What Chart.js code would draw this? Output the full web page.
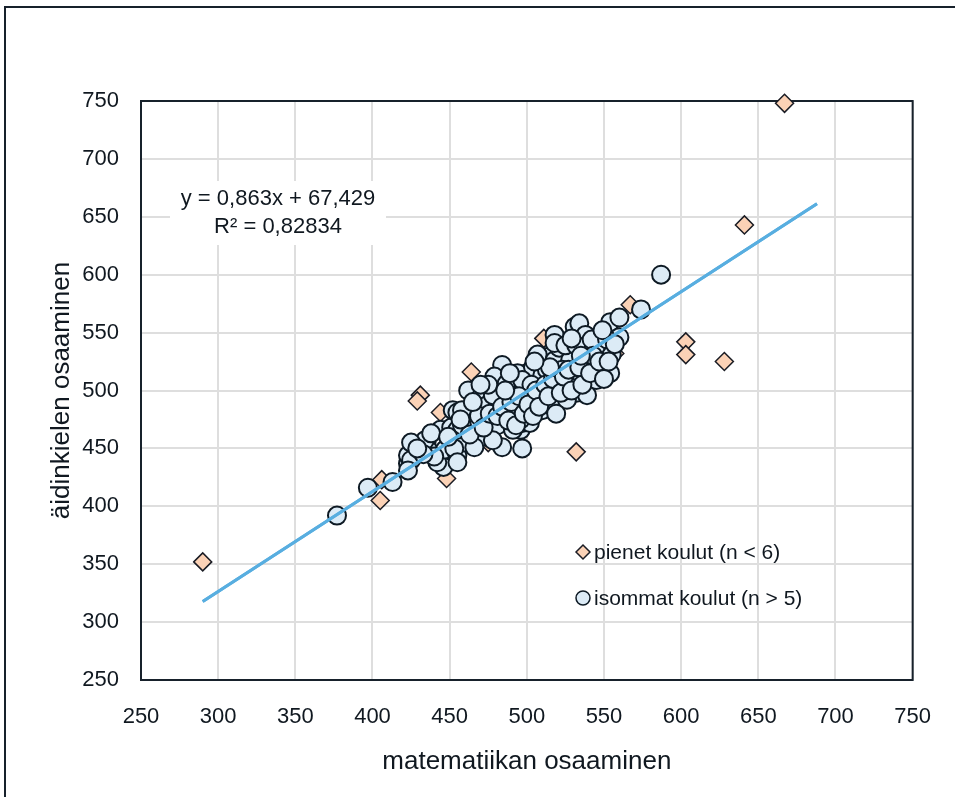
<!DOCTYPE html>
<html>
<head>
<meta charset="utf-8">
<script src="https://cdn.jsdelivr.net/npm/chart.js@4.4.1/dist/chart.umd.min.js"></script>
<style>
    body { margin: 0; background: #fff; }
    #frame { position: absolute; left: 4px; top: 6px; width: 1000px; height: 1000px; border: 2px solid #17212b; }
    #wrap { position: absolute; left: 0; top: 0; width: 955px; height: 797px; }
</style>
</head>
<body>
<div id="frame"></div>
<div id="wrap"><canvas id="chart" width="955" height="797"></canvas></div>
<script>
// pienet koulut (n < 6)
const smallX = [290, 667, 641, 603, 603, 628, 532, 567, 557, 511, 464, 431, 429, 444, 448, 405, 406, 475];
const smallY = [352, 748, 643, 542, 531, 525, 447, 574, 532, 545, 516, 496, 491, 481, 424, 405, 423, 455];

// isommat koulut (n > 5)
const largeX = [377, 397, 413, 423, 423, 435, 442, 446, 450, 442, 436, 434, 444, 451, 447, 460, 455, 452, 455, 462,
    467, 468, 464, 466, 475, 473, 478, 460, 453, 466, 484, 497, 484, 483, 487, 494, 500, 509, 513, 496,
    492, 479, 470, 479, 483, 497, 502, 511, 492, 487, 507, 520, 532, 522, 513, 498, 485, 494, 502, 520,
    532, 539, 496, 494, 504, 510, 507, 518, 518, 521, 531, 534, 538, 539, 549, 551, 554, 531, 554, 560,
    560, 574, 587, 545, 518, 528, 438, 425, 440, 425, 423, 481, 491, 507, 510, 516, 526, 526, 542, 545,
    545, 539, 523, 500, 500, 478, 471, 462, 455, 458, 475, 487, 497, 503, 513, 525, 532, 542, 552, 549,
    555, 478, 475, 455, 458, 463, 469, 472, 476, 481, 484, 488, 490, 493, 495, 498, 501, 504, 506, 508,
    512, 514, 517, 519, 522, 524, 527, 529, 534, 536, 541, 543, 547, 550, 553, 557, 535, 529, 515, 505,
    489, 486, 470, 465, 449, 457, 433, 429];
const largeY = [392, 416, 421, 437, 444, 455, 444, 434, 449, 438, 449, 457, 466, 468, 449, 457, 444, 483, 481, 500,
    489, 481, 475, 468, 466, 460, 470, 455, 450, 451, 451, 450, 522, 490, 481, 500, 515, 509, 529, 466,
    477, 512, 494, 483, 475, 472, 494, 492, 486, 506, 512, 500, 513, 506, 500, 502, 492, 483, 472, 492,
    498, 509, 475, 515, 520, 513, 531, 526, 548, 537, 555, 558, 548, 533, 533, 518, 515, 525, 559, 563,
    546, 570, 600, 538, 541, 526, 463, 455, 443, 440, 431, 470, 466, 492, 483, 487, 492, 505, 522, 509,
    522, 496, 518, 492, 483, 457, 475, 470, 466, 483, 488, 496, 509, 505, 518, 539, 539, 544, 544, 552,
    531, 496, 505, 438, 470, 462, 478, 468, 480, 478, 486, 474, 490, 470, 495, 480, 488, 478, 500, 486,
    505, 495, 510, 480, 498, 512, 518, 500, 520, 505, 515, 530, 525, 510, 525, 540, 530, 545, 520, 525,
    515, 500, 505, 490, 460, 475, 445, 450];

// trendline
const slope = 0.863;
const intercept = 67.429;
const trendX = [290, 688];

const axisTicks = [250, 300, 350, 400, 450, 500, 550, 600, 650, 700, 750];
const eqLines = ['y = 0,863x + 67,429', 'R² = 0,82834'];
const legendLabels = ['pienet koulut (n < 6)', 'isommat koulut (n > 5)'];

const FONT = "'Liberation Sans', Arial, sans-serif";
const TEXT = '#101820';
const TREND = '#58aee0';

let smallPts = smallX.map((x, i) => ({x: x, y: smallY[i]}));
let largePts = largeX.map((x, i) => ({x: x, y: largeY[i]}));
let trendPts = trendX.map(x => ({x: x, y: slope * x + intercept}));

const boxPlugin = {
    id: 'boxPlugin',
    beforeDatasetsDraw(chart) {
        let a = chart.chartArea;
        let ctx = chart.ctx;
        ctx.save();
        ctx.strokeStyle = '#17212b';
        ctx.lineWidth = 2;
        ctx.strokeRect(a.left, a.top, a.right - a.left, a.bottom - a.top);
        ctx.restore();
    },
    afterDraw(chart) {
        let ctx = chart.ctx;
        let xs = chart.scales.x;
        let ys = chart.scales.y;
        ctx.save();

        // trendline on top of the markers
        ctx.strokeStyle = TREND;
        ctx.lineWidth = 3;
        ctx.beginPath();
        trendPts.forEach((p, i) => {
            let px = xs.getPixelForValue(p.x);
            let py = ys.getPixelForValue(p.y);
            if (i === 0) ctx.moveTo(px, py); else ctx.lineTo(px, py);
        });
        ctx.stroke();

        // equation box
        ctx.fillStyle = '#fff';
        ctx.fillRect(170, 181, 216, 64);
        ctx.fillStyle = TEXT;
        ctx.font = '22px ' + FONT;
        ctx.textAlign = 'center';
        ctx.textBaseline = 'middle';
        ctx.fillText(eqLines[0], 278, 199);
        ctx.fillText(eqLines[1], 278, 227);

        // legend
        let ds = chart.data.datasets;
        let rows = [
            {d: ds[2], y: 552, r: 7},
            {d: ds[1], y: 598, r: 7}
        ];
        ctx.font = '21px ' + FONT;
        ctx.textAlign = 'left';
        rows.forEach((row, i) => {
            ctx.fillStyle = row.d.backgroundColor;
            ctx.strokeStyle = row.d.borderColor;
            ctx.lineWidth = 1.5;
            Chart.helpers.drawPoint(ctx, {pointStyle: row.d.pointStyle, radius: row.r, rotation: 0, borderWidth: 1.5}, 583, row.y);
            ctx.fillStyle = TEXT;
            ctx.fillText(legendLabels[i], 594, row.y + 1);
        });
        ctx.restore();
    }
};

new Chart(document.getElementById('chart'), {
    type: 'scatter',
    data: {
        datasets: [
            {
                label: 'trend',
                type: 'line',
                data: trendPts,
                borderColor: TREND,
                borderWidth: 3,
                pointRadius: 0,
                fill: false,
                order: 0,
                clip: false
            },
            {
                label: legendLabels[1],
                data: largePts,
                pointStyle: 'circle',
                pointRadius: 9,
                pointHoverRadius: 9,
                backgroundColor: '#dcebf6',
                borderColor: '#0e1a24',
                pointBorderWidth: 2,
                order: 1,
                clip: false
            },
            {
                label: legendLabels[0],
                data: smallPts,
                pointStyle: 'rectRot',
                pointRadius: 9,
                pointHoverRadius: 9,
                backgroundColor: '#fbd2b6',
                borderColor: '#1a1c24',
                pointBorderWidth: 1.5,
                order: 2,
                clip: false
            }
        ]
    },
    options: {
        responsive: false,
        animation: false,
        events: [],
        layout: { padding: { top: 101, right: 37, left: 0, bottom: 0 } },
        plugins: {
            legend: { display: false },
            tooltip: { enabled: false }
        },
        scales: {
            x: {
                type: 'linear',
                min: 250,
                max: 750,
                afterBuildTicks: s => { s.ticks = axisTicks.map(v => ({value: v})); },
                afterFit: s => { s.height = 117; },
                grid: { color: '#dedede', lineWidth: 2, drawTicks: false },
                border: { display: false },
                ticks: { color: TEXT, padding: 24, font: { family: FONT, size: 22 } },
                title: {
                    display: true,
                    text: 'matematiikan osaaminen',
                    color: TEXT,
                    font: { family: FONT, size: 26 },
                    padding: { top: 0, bottom: 20 }
                }
            },
            y: {
                type: 'linear',
                min: 250,
                max: 750,
                afterBuildTicks: s => { s.ticks = axisTicks.map(v => ({value: v})); },
                afterFit: s => { s.width = 141; },
                grid: { color: '#dedede', lineWidth: 2, drawTicks: false },
                border: { display: false },
                ticks: { color: TEXT, padding: 22, font: { family: FONT, size: 22 } },
                title: {
                    display: true,
                    text: 'äidinkielen osaaminen',
                    color: TEXT,
                    font: { family: FONT, size: 26 },
                    padding: { top: 46, bottom: 0 }
                }
            }
        }
    },
    plugins: [boxPlugin]
});
</script>
</body>
</html>
